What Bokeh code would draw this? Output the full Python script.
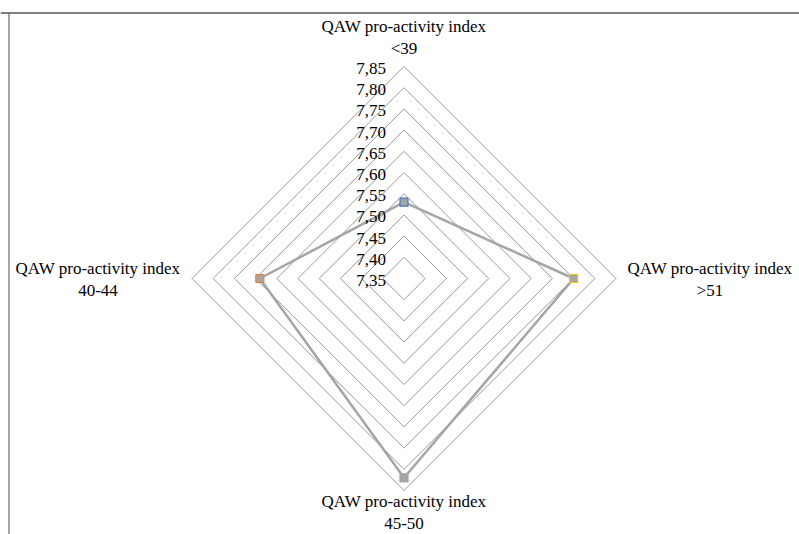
import math
from bokeh.plotting import figure
from bokeh.models import Range1d, ColumnDataSource, Span
from bokeh.core.properties import value
from bokeh.embed import file_html
from bokeh.resources import INLINE

# ---- data ----
categories = ["QAW pro-activity index\n<39", "QAW pro-activity index\n>51",
              "QAW pro-activity index\n45-50", "QAW pro-activity index\n40-44"]
values = [7.53, 7.75, 7.82, 7.69]
marker_outline = ["#4472C4", "#FFC000", "#A5A5A5", "#ED7D31"]
tick_values = [7.35, 7.40, 7.45, 7.50, 7.55, 7.60, 7.65, 7.70, 7.75, 7.80, 7.85]
tick_labels = ["7,35", "7,40", "7,45", "7,50", "7,55", "7,60", "7,65", "7,70", "7,75", "7,80", "7,85"]

rmin = tick_values[0]
rmax = tick_values[-1]

W, H = 799, 534
px_per_unit = 424.0
cx, cy = 403.5, 278.0  # center in canvas px

xr = Range1d(-cx / px_per_unit, (W - cx) / px_per_unit)
yr = Range1d(-(H - cy) / px_per_unit, cy / px_per_unit)

FONT = value("Liberation Serif")

p = figure(width=W, height=H, x_range=xr, y_range=yr, output_backend="svg",
           toolbar_location=None, min_border=0)
p.axis.visible = False
p.grid.visible = False
p.outline_line_color = None
p.background_fill_color = "white"

n = len(categories)
angles = [math.pi / 2 - 2 * math.pi * i / n for i in range(n)]

# grid rings
ring_xs, ring_ys = [], []
for t in tick_values[1:]:
    r = t - rmin
    xs = [r * math.cos(a) for a in angles] + [r * math.cos(angles[0])]
    ys = [r * math.sin(a) for a in angles] + [r * math.sin(angles[0])]
    ring_xs.append(xs)
    ring_ys.append(ys)
p.multi_line(ring_xs, ring_ys, line_color="#999999", line_width=1)

# series
sx = [(v - rmin) * math.cos(a) for v, a in zip(values, angles)]
sy = [(v - rmin) * math.sin(a) for v, a in zip(values, angles)]
p.line(sx + [sx[0]], sy + [sy[0]], line_color="#A5A5A5", line_width=2.5)
p.scatter(x=sx, y=sy, marker="square", size=8, fill_color="#A5A5A5",
          line_color=marker_outline, line_width=1.2)

# tick labels along top axis
tx = [0.0] * len(tick_values)
ty = [t - rmin for t in tick_values]
p.text(x=tx, y=ty, text=tick_labels, text_align="right", text_baseline="middle",
       x_offset=-18, y_offset=2, text_font=FONT,
       text_font_size="17px", text_color="black")

# category labels
R = rmax - rmin
lx, ly, xo, yo = [], [], [], []
for a in angles:
    lx.append(R * math.cos(a))
    ly.append(R * math.sin(a))
    xo.append(round(math.cos(a) * 94))
    s = math.sin(a)
    yo.append(-round(s * 30) + 1 if s >= 0 else -round(s * 21) + 1)
src = ColumnDataSource(dict(x=lx, y=ly, text=categories, xo=xo, yo=yo))
p.text(x="x", y="y", text="text", x_offset="xo", y_offset="yo", source=src,
       text_align="center", text_baseline="middle", text_line_height=1.15,
       text_font=FONT, text_font_size="17px", text_color="black")

# chart frame (top and left edges visible)
top_y = (cy - 12.5) / px_per_unit
left_x = xr.start + 8.5 / px_per_unit
p.add_layout(Span(location=top_y, dimension="width", line_color="#555555", line_width=1.5))
p.segment(x0=[left_x], y0=[top_y], x1=[left_x], y1=[yr.start], line_color="#A6A6A6", line_width=2)

open("out.html", "w").write(file_html(p, INLINE))
